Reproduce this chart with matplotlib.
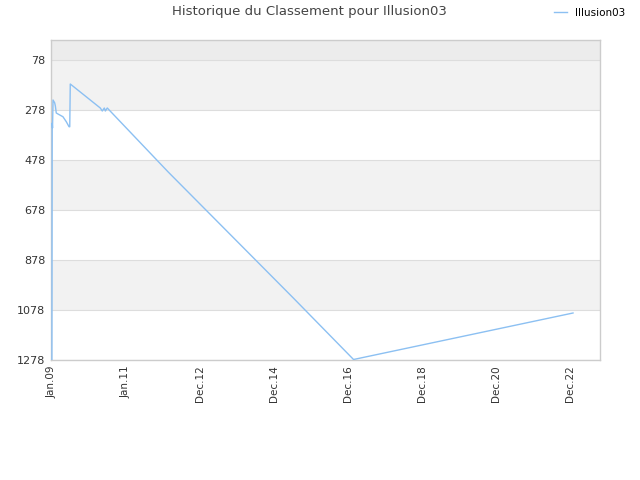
import numpy as np
import pandas as pd
import matplotlib
matplotlib.use("Agg")
import matplotlib.pyplot as plt
import matplotlib.dates as mdates

# rank history
dates = pd.to_datetime([
    "2009-01-01", "2009-01-04", "2009-01-07", "2009-01-12", "2009-01-28",
    "2009-02-04", "2009-02-13", "2009-03-02", "2009-04-20", "2009-05-23",
    "2009-06-19", "2009-06-26", "2009-07-01", "2010-04-23", "2010-05-13",
    "2010-06-02", "2010-06-12", "2010-07-01", "2012-02-22", "2015-07-10",
    "2017-02-23", "2023-01-28",
])
ranks = [1278, 330, 350, 238, 249, 262, 290, 294, 305, 325,
         345, 345, 174, 270, 282, 270, 282, 270, 526, 1030,
         1276, 1090]

yticks = [78, 278, 478, 678, 878, 1078, 1278]
xtick_dates = pd.to_datetime(["2009-01-01", "2011-01-01", "2012-12-31", "2014-12-31",
                              "2016-12-30", "2018-12-30", "2020-12-29", "2022-12-29"])
xtick_labels = ["Jan.09", "Jan.11", "Dec.12", "Dec.14", "Dec.16", "Dec.18", "Dec.20", "Dec.22"]

line_color = "#8cc0f2"

fig = plt.figure(figsize=(6.4, 4.8), dpi=100)
ax = fig.add_axes([51 / 640, 1 - 360 / 480, 549 / 640, 320 / 480])

# alternating bands
ax.axhspan(-2, 78, color="#ececec", zorder=0, lw=0)
for i in range(len(yticks) - 1):
    if i % 2 == 0:
        ax.axhspan(yticks[i], yticks[i + 1], color="#f2f2f2", zorder=0, lw=0)
for y in yticks:
    ax.axhline(y, color="#dddddd", lw=0.8, zorder=1)

ax.plot(dates, ranks, color=line_color, lw=1, zorder=3, label="Illusion03")

ax.set_ylim(1278, -2)
ax.set_xlim(pd.Timestamp("2008-12-23"), pd.Timestamp("2023-10-21"))
ax.set_yticks(yticks)
ax.set_yticklabels([str(v) for v in yticks], fontsize=8, color="#333333")
ax.set_xticks(xtick_dates)
ax.set_xticklabels(xtick_labels, rotation=90, fontsize=7.5, color="#333333")
ax.tick_params(length=0, pad=4)

for s in ax.spines.values():
    s.set_color("#cccccc")
    s.set_linewidth(1)

fig.text(0.484, 1 - 12 / 480, "Historique du Classement pour Illusion03",
         ha="center", va="center", fontsize=9.5, color="#444444")
leg = fig.legend(loc="center left", bbox_to_anchor=(545 / 640, 1 - 13 / 480),
                 frameon=False, fontsize=7.5, handlelength=1.2, handletextpad=0.8)

fig.savefig("out.png", dpi=100)
